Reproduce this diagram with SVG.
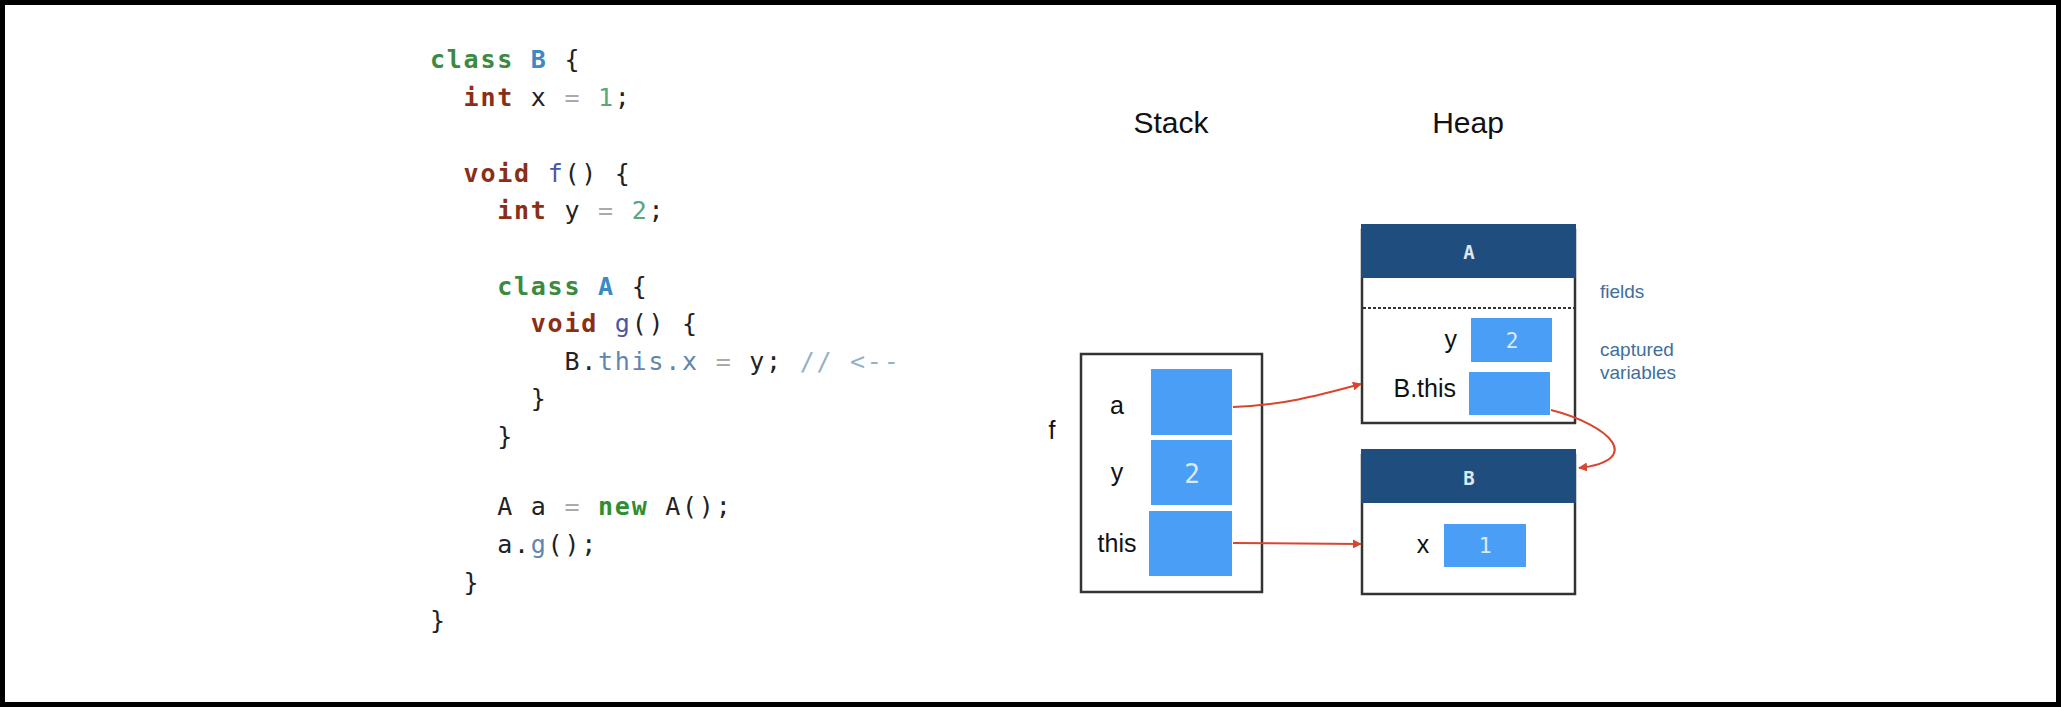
<svg xmlns="http://www.w3.org/2000/svg" width="2061" height="707" viewBox="0 0 2061 707">
<defs>
<style>
.code{font-family:"DejaVu Sans Mono","Liberation Mono",monospace;font-size:25px;letter-spacing:1.75px;fill:#222}
.kw{font-weight:bold;fill:#8b2e16}
.cls{font-weight:bold;fill:#3b8a3f}
.cn{font-weight:bold;fill:#3b8ac4}
.num{fill:#5aa77a}
.op{fill:#aaaaaa}
.fn{fill:#4a58a4}
.mem{fill:#5f85b0}
.cm{fill:#93b2c8}
.nw{font-weight:bold;fill:#2f8f2f}
.lbl{font-family:"Liberation Sans",Arial,sans-serif;font-size:25px;fill:#111}
.title{font-family:"Liberation Sans",Arial,sans-serif;font-size:30px;fill:#111;text-anchor:middle}
.note{font-family:"Liberation Sans",Arial,sans-serif;font-size:19px;fill:#3f6e9e}
.val{fill:#4a9ef5}
.vt{font-family:"DejaVu Sans Mono",monospace;fill:#dbe9fb;text-anchor:middle}
.hdr{fill:#1f4e7e}
.ht{font-family:"DejaVu Sans Mono",monospace;font-size:19px;font-weight:bold;fill:#dce8f5;text-anchor:middle}
.box{fill:#fff;stroke:#333;stroke-width:2.5}
.conn{fill:none;stroke:#d9452f;stroke-width:2}
</style>
<marker id="ah" viewBox="0 0 10 10" refX="9" refY="5" markerWidth="9" markerHeight="9" markerUnits="userSpaceOnUse" orient="auto">
<path d="M0,0 L10,5 L0,10 z" fill="#d9452f"/>
</marker>
</defs>
<rect x="0" y="0" width="2061" height="707" fill="#fff"/>
<rect x="2.5" y="2.5" width="2056" height="702" fill="none" stroke="#000" stroke-width="5"/>

<g id="code" class="code" xml:space="preserve">
<text x="430" y="68"><tspan class="cls">class</tspan> <tspan class="cn">B</tspan> {</text>
<text x="463.6" y="106"><tspan class="kw">int</tspan> x <tspan class="op">=</tspan> <tspan class="num">1</tspan>;</text>
<text x="463.6" y="182"><tspan class="kw">void</tspan> <tspan class="fn">f</tspan>() {</text>
<text x="497.2" y="219"><tspan class="kw">int</tspan> y <tspan class="op">=</tspan> <tspan class="num">2</tspan>;</text>
<text x="497.2" y="295"><tspan class="cls">class</tspan> <tspan class="cn">A</tspan> {</text>
<text x="530.8" y="332"><tspan class="kw">void</tspan> <tspan class="fn">g</tspan>() {</text>
<text x="564.4" y="370">B.<tspan class="mem">this.x</tspan> <tspan class="op">=</tspan> y; <tspan class="cm">// &lt;--</tspan></text>
<text x="530.8" y="407">}</text>
<text x="497.2" y="445">}</text>
<text x="497.2" y="515">A a <tspan class="op">=</tspan> <tspan class="nw">new</tspan> A();</text>
<text x="497.2" y="553">a.<tspan class="mem">g</tspan>();</text>
<text x="463.6" y="591">}</text>
<text x="430" y="629">}</text>
</g>

<g id="titles">
<text class="title" x="1171" y="133">Stack</text>
<text class="title" x="1468" y="133">Heap</text>
</g>

<g id="stack-frame-f">
<rect class="box" x="1081" y="354" width="181" height="238"/>
<text class="lbl" x="1052" y="439" text-anchor="middle">f</text>
<rect class="val" x="1151" y="369" width="81" height="66"/>
<rect class="val" x="1151" y="440" width="81" height="65"/>
<rect class="val" x="1149" y="511" width="83" height="65"/>
<text class="lbl" x="1117" y="414" text-anchor="middle">a</text>
<text class="lbl" x="1117" y="481" text-anchor="middle">y</text>
<text class="lbl" x="1117" y="552" text-anchor="middle">this</text>
<text class="vt" x="1192" y="483" font-size="26">2</text>
</g>

<g id="heap-A">
<rect class="box" x="1362" y="230" width="213" height="193"/>
<rect class="hdr" x="1361" y="224" width="215" height="54"/>
<text class="ht" x="1469" y="259">A</text>
<line x1="1363" y1="308" x2="1575" y2="308" stroke="#333" stroke-width="2" stroke-dasharray="3,2"/>
<rect class="val" x="1471" y="318" width="81" height="44"/>
<text class="vt" x="1512" y="348" font-size="21">2</text>
<rect class="val" x="1469" y="372" width="81" height="43"/>
<text class="lbl" x="1457" y="348" text-anchor="end">y</text>
<text class="lbl" x="1456" y="397" text-anchor="end">B.this</text>
<text class="note" x="1600" y="298">fields</text>
<text class="note" x="1600" y="356">captured</text>
<text class="note" x="1600" y="379">variables</text>
</g>

<g id="heap-B">
<rect class="box" x="1362" y="455" width="213" height="139"/>
<rect class="hdr" x="1361" y="449" width="215" height="54"/>
<text class="ht" x="1469" y="485">B</text>
<rect class="val" x="1444" y="524" width="82" height="43"/>
<text class="vt" x="1485" y="553" font-size="22">1</text>
<text class="lbl" x="1423" y="553" text-anchor="middle">x</text>
</g>

<g id="connectors">
<path class="conn" d="M1233,407 C1285,405 1320,395 1361,384" marker-end="url(#ah)"/>
<path class="conn" d="M1233,543 L1361,544" marker-end="url(#ah)"/>
<path class="conn" d="M1551,410 C1610,425 1645,460 1579,468" marker-end="url(#ah)"/>
</g>
</svg>
